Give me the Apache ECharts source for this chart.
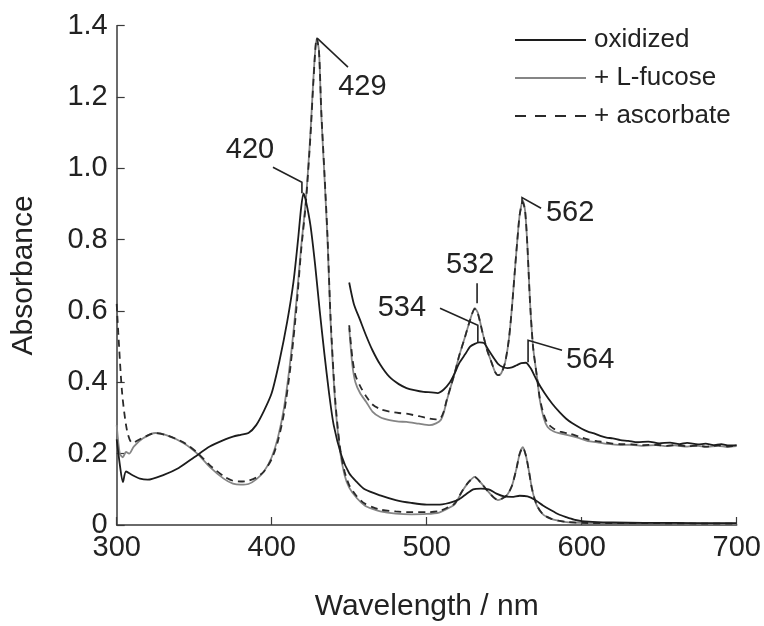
<!DOCTYPE html>
<html>
<head>
<meta charset="utf-8">
<script src="https://cdn.jsdelivr.net/npm/echarts@6/dist/echarts.min.js"></script>
<style>
html,body{margin:0;padding:0;background:#fff;}
#chart{width:764px;height:626px;}
</style>
</head>
<body>
<div id="chart"></div>
<script>
// ---------- data ----------
const xTicks = [300, 400, 500, 600, 700];
const yTicks = [0, 0.2, 0.4, 0.6, 0.8, 1.0, 1.2, 1.4];
const seriesNames = ['oxidized', '+ L-fucose', '+ ascorbate'];

// oxidized, full spectrum
const oxMainWl  = [300,302,304,306,310,315,320,330,340,350,360,370,375,380,385,390,395,400,405,410,414,417,419,420.5,422,425,428,431,434,437,440,445,450,455,460,470,480,490,500,510,520,525,530,535,540,545,550,555,560,565,570,575,580,585,590,595,600,610,620,640,660,680,700];
const oxMainAbs = [0.24,0.17,0.12,0.15,0.14,0.13,0.127,0.14,0.16,0.19,0.22,0.24,0.248,0.253,0.258,0.28,0.32,0.37,0.46,0.57,0.68,0.8,0.89,0.93,0.91,0.84,0.73,0.6,0.48,0.37,0.28,0.195,0.145,0.12,0.1,0.083,0.07,0.062,0.057,0.058,0.07,0.085,0.1,0.102,0.1,0.088,0.08,0.079,0.082,0.08,0.07,0.055,0.042,0.03,0.022,0.015,0.011,0.008,0.007,0.006,0.006,0.005,0.005];
// oxidized, expanded trace
const oxInsetWl  = [450,453,457,461,465,470,476,482,487,492,498,503,507,511,515,518,521,525,528,531,534,537,540,543,546,549,552,555,558,561,564,567,571,576,581,586,590,594,600,604,608,612,616,620,625,630,636,643,650,657,663,668,675,680,685,690,695,700];
const oxInsetAbs = [0.68,0.62,0.575,0.53,0.49,0.45,0.415,0.395,0.384,0.378,0.373,0.372,0.37,0.38,0.4,0.425,0.454,0.48,0.5,0.508,0.512,0.51,0.49,0.47,0.452,0.443,0.44,0.442,0.448,0.454,0.455,0.44,0.406,0.37,0.34,0.315,0.298,0.285,0.27,0.262,0.257,0.25,0.245,0.243,0.238,0.236,0.232,0.234,0.229,0.231,0.227,0.23,0.226,0.228,0.224,0.227,0.223,0.224];

// + L-fucose, full spectrum
const fucMainWl  = [300,302,304,306,308,311,317,325,332,343,352,360,369,375,380,385,390,395,400,404,408,412,416,419,422,425,427,429,430.5,432,434,436,438,441,444,447,450,455,460,465,470,480,490,500,508,513,518,523,527,531,535,539,543,546,549,552,555,558,560,562,564,566,568,571,575,580,585,590,600,620,650,680,700];
const fucMainAbs = [0.28,0.2,0.19,0.205,0.2,0.22,0.243,0.258,0.252,0.23,0.2,0.163,0.13,0.116,0.113,0.115,0.128,0.15,0.19,0.245,0.33,0.46,0.63,0.78,0.91,1.1,1.26,1.365,1.33,1.15,0.98,0.8,0.57,0.34,0.21,0.14,0.105,0.075,0.055,0.045,0.038,0.032,0.03,0.031,0.035,0.045,0.058,0.095,0.12,0.135,0.118,0.097,0.078,0.07,0.075,0.085,0.11,0.16,0.2,0.218,0.195,0.15,0.1,0.055,0.03,0.018,0.012,0.008,0.006,0.005,0.005,0.004,0.004];
// + L-fucose, expanded trace
const fucInsetWl  = [450,452,454,457,461,465,470,476,482,487,495,502,506,509,511,513,516,518,521,524.7,528,531,533,536,539,542,544,546,548,550.5,553,555,557,558.5,560,562,563.5,565,566.6,568.6,571,573,575.5,578,582,586,593,598,604,610,615,620,625,632,640,648,655,660,668,675,680,688,694,700];
const fucInsetAbs = [0.552,0.45,0.4,0.37,0.345,0.318,0.302,0.294,0.29,0.289,0.284,0.28,0.285,0.294,0.315,0.35,0.395,0.425,0.475,0.527,0.575,0.608,0.595,0.54,0.49,0.454,0.43,0.42,0.425,0.454,0.52,0.61,0.72,0.8,0.87,0.91,0.88,0.78,0.63,0.5,0.42,0.35,0.3,0.275,0.262,0.257,0.25,0.244,0.235,0.232,0.228,0.226,0.224,0.225,0.222,0.224,0.221,0.223,0.22,0.222,0.219,0.222,0.219,0.221];

// + ascorbate, full spectrum
const ascMainWl  = [300,301,303.5,306.6,310,317,325,332,343,352,360,369,375,380,385,390,395,400,404,408,412,416,419,422,425,427,429,430.5,432,434,436,438,441,444,447,450,455,460,465,470,480,490,500,508,513,518,523,527,531,535,539,543,546,549,552,555,558,560,562,564,566,568,571,575,580,585,590,600,620,650,680,700];
const ascMainAbs = [0.62,0.54,0.37,0.266,0.23,0.245,0.258,0.252,0.232,0.203,0.168,0.137,0.124,0.122,0.124,0.133,0.15,0.185,0.235,0.315,0.44,0.61,0.77,0.9,1.09,1.25,1.365,1.33,1.16,0.99,0.81,0.58,0.35,0.22,0.15,0.112,0.08,0.06,0.05,0.043,0.038,0.036,0.036,0.039,0.048,0.06,0.096,0.12,0.134,0.118,0.097,0.078,0.07,0.075,0.085,0.11,0.16,0.2,0.217,0.195,0.15,0.1,0.056,0.03,0.018,0.012,0.009,0.006,0.005,0.005,0.004,0.004];
// + ascorbate, expanded trace
const ascInsetWl  = [450,452,454,457,461,465,470,476,482,487,495,502,506,509,511,513,516,518,521,524.7,528,531,533,536,539,542,544,546,548,550.5,553,555,557,558.5,560,562,563.5,565,566.6,568.6,571,573,575.5,578,582,586,593,598,604,610,615,620,625,632,640,648,655,660,668,675,680,688,694,700];
const ascInsetAbs = [0.56,0.47,0.42,0.39,0.36,0.338,0.325,0.318,0.314,0.312,0.305,0.298,0.296,0.3,0.318,0.352,0.395,0.425,0.475,0.527,0.575,0.606,0.593,0.54,0.49,0.454,0.43,0.42,0.425,0.454,0.52,0.61,0.72,0.8,0.87,0.905,0.88,0.78,0.63,0.5,0.42,0.355,0.31,0.285,0.27,0.262,0.255,0.248,0.24,0.235,0.232,0.228,0.227,0.226,0.224,0.225,0.222,0.224,0.221,0.223,0.22,0.223,0.22,0.222];

// peak annotations: text, label position and leader polyline, all in data units
const annotations = [
  {text: '420', at: [386, 1.051], path: [[400.8, 1.003], [419.5, 0.961], [419.5, 0.93]]},
  {text: '429', at: [458.5, 1.228], path: [[449.2, 1.284], [429.3, 1.365]]},
  {text: '532', at: [528, 0.729], path: [[532.5, 0.678], [532.5, 0.622]]},
  {text: '534', at: [484, 0.608], path: [[508.6, 0.608], [533, 0.56], [533, 0.513]]},
  {text: '562', at: [592.5, 0.874], path: [[573.8, 0.888], [561.5, 0.918], [561.5, 0.9]]},
  {text: '564', at: [605.4, 0.462], path: [[587.3, 0.49], [565.4, 0.518], [565.4, 0.456]]}
];

// ---------- chart ----------
function pairs(wl, ab) { return wl.map((w, i) => [w, ab[i]]); }

const FONT = '"Liberation Sans", Arial, Helvetica, sans-serif';
const BLACK = '#1c1c1c', GRAY = '#858585', DASH = '#2a2a2a';

const styles = {
  'oxidized':    {color: BLACK, type: 'solid', legendType: 'solid'},
  '+ L-fucose':  {color: GRAY,  type: 'solid', legendType: 'solid'},
  '+ ascorbate': {color: DASH,  type: [7, 5],  legendType: [11, 9]}
};

function lineSeries(name, data, z) {
  const s = styles[name];
  return {
    name: name, type: 'line', data: data, symbol: 'none', showSymbol: false,
    smooth: 0.25, z: z, animation: false,
    lineStyle: {color: s.color, width: 1.8, type: s.type},
    itemStyle: {color: s.color}
  };
}

const chart = echarts.init(document.getElementById('chart'), null, {renderer: 'canvas'});

const option = {
  backgroundColor: '#ffffff',
  animation: false,
  grid: {left: 116.7, right: 27.3, top: 25.7, bottom: 101, containLabel: false, outerBoundsMode: 'none'},
  legend: {
    data: seriesNames.map(n => ({
      name: n,
      itemStyle: {opacity: 0, borderWidth: 0},
      lineStyle: {type: styles[n].legendType, width: 2, color: styles[n].color}
    })),
    orient: 'vertical',
    left: 509, top: 22,
    itemWidth: 71, itemHeight: 14, itemGap: 12,
    selectedMode: false,
    itemStyle: {opacity: 0, borderWidth: 0},
    textStyle: {fontFamily: FONT, fontSize: 26, color: '#222', lineHeight: 26, padding: [0, 0, 0, 3]}
  },
  xAxis: {
    type: 'value', min: xTicks[0], max: xTicks[xTicks.length - 1], interval: 100,
    name: 'Wavelength / nm', nameLocation: 'middle', nameGap: 67,
    nameTextStyle: {fontFamily: FONT, fontSize: 30, color: '#222'},
    axisLine: {show: true, onZero: false, lineStyle: {color: '#3a3a3a', width: 1.5}},
    axisTick: {show: true, inside: true, length: 8, lineStyle: {color: '#3a3a3a', width: 1.2}},
    axisLabel: {fontFamily: FONT, fontSize: 29, color: '#222', margin: 8},
    splitLine: {show: false}
  },
  yAxis: {
    type: 'value', min: yTicks[0], max: yTicks[yTicks.length - 1], interval: 0.2,
    name: 'Absorbance', nameLocation: 'middle', nameGap: 78,
    nameTextStyle: {fontFamily: FONT, fontSize: 30, color: '#222'},
    axisLine: {show: true, onZero: false, lineStyle: {color: '#3a3a3a', width: 1.5}},
    axisTick: {show: true, inside: true, length: 8, lineStyle: {color: '#3a3a3a', width: 1.2}},
    axisLabel: {fontFamily: FONT, fontSize: 29, color: '#222', margin: 9,
      formatter: v => (Math.abs(v) < 1e-9 ? '0' : v.toFixed(1))},
    splitLine: {show: false}
  },
  series: [
    lineSeries('+ L-fucose', pairs(fucMainWl, fucMainAbs), 2),
    lineSeries('+ L-fucose', pairs(fucInsetWl, fucInsetAbs), 2),
    lineSeries('+ ascorbate', pairs(ascMainWl, ascMainAbs), 3),
    lineSeries('+ ascorbate', pairs(ascInsetWl, ascInsetAbs), 3),
    lineSeries('oxidized', pairs(oxMainWl, oxMainAbs), 4),
    lineSeries('oxidized', pairs(oxInsetWl, oxInsetAbs), 4)
  ]
};

chart.setOption(option);

// annotations positioned through the chart's own coordinate system
function px(p) { return chart.convertToPixel({gridIndex: 0}, p); }
const graphics = [];
annotations.forEach(a => {
  const c = px(a.at);
  graphics.push({
    type: 'text', x: c[0], y: c[1], z: 100,
    style: {text: a.text, fontFamily: FONT, fontSize: 29, fill: '#222',
      textAlign: 'center', textVerticalAlign: 'middle'}
  });
  graphics.push({
    type: 'polyline', z: 100,
    shape: {points: a.path.map(px)},
    style: {stroke: '#222', lineWidth: 1.6, fill: null}
  });
});
chart.setOption({graphic: graphics});
</script>
</body>
</html>
